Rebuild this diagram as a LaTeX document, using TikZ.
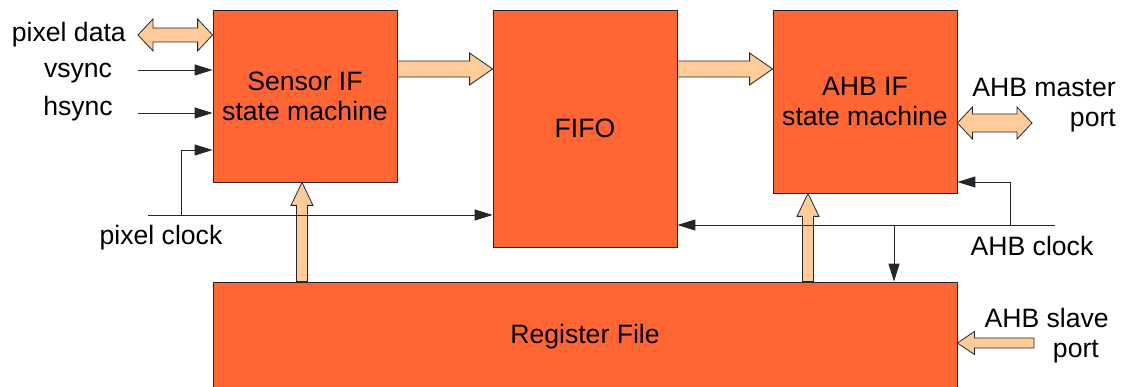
\documentclass[tikz,border=0pt]{standalone}
\usepackage{fontspec}
\setmainfont{Liberation Sans}
\usetikzlibrary{calc,positioning,arrows.meta}
\definecolor{blockred}{RGB}{255,102,51}
\definecolor{busfill}{RGB}{255,204,153}
\newcommand{\lbl}{\fontsize{26.6}{30}\selectfont}
% fat bus arrow: tail, tip, shaft half width, head half width, head length
\newcommand{\busarrow}[5]{%
  \coordinate (bn) at ($(#2)!#5!(#1)$);
  \draw[bus] ($(#1)!#3!90:(#2)$) -- ($(bn)!#3!90:(#2)$) -- ($(bn)!#4!90:(#2)$) -- (#2)
    -- ($(bn)!#4!-90:(#2)$) -- ($(bn)!#3!-90:(#2)$) -- ($(#1)!#3!-90:(#2)$) -- cycle;}
% fat bus arrow with two heads
\newcommand{\busdouble}[5]{%
  \coordinate (bn1) at ($(#1)!#5!(#2)$);
  \coordinate (bn2) at ($(#2)!#5!(#1)$);
  \draw[bus] (#1) -- ($(bn1)!#4!90:(#2)$) -- ($(bn1)!#3!90:(#2)$) -- ($(bn2)!#3!90:(#2)$)
    -- ($(bn2)!#4!90:(#2)$) -- (#2) -- ($(bn2)!#4!-90:(#2)$) -- ($(bn2)!#3!-90:(#2)$)
    -- ($(bn1)!#3!-90:(#2)$) -- ($(bn1)!#4!-90:(#2)$) -- cycle;}

\begin{document}
\begin{tikzpicture}[x=1pt, y=-1pt,
    block/.style={rectangle, draw=black!85, line width=0.8pt, fill=blockred, inner sep=0pt, align=center, font=\lbl},
    bus/.style={draw=black!85, line width=0.8pt, fill=busfill, line join=miter},
    sig/.style={draw=black!85, line width=0.9pt, -{Triangle[length=18pt,width=11pt]}},
    lbl/.style={font=\lbl, inner sep=0pt}]

    \useasboundingbox (0,0) rectangle (1122,387);

    \node[block, minimum width=184pt, minimum height=172pt] (sensor) at (305,96) {Sensor IF\\state machine};
    \node[block, minimum width=184pt, minimum height=237pt] (fifo) at (585,128.5) {FIFO};
    \node[block, minimum width=184pt, minimum height=183pt] (ahb) at (865,101.5) {AHB IF\\state machine};
    \node[block, minimum width=744pt, minimum height=110pt] (reg) at (585,337) {Register File};

    \node[lbl, anchor=base east] (pdlab) at (126,42) {pixel data};
    \node[lbl, anchor=base] (vslab) at (78,78) {vsync};
    \node[lbl, anchor=base] (hslab) at (78,116) {hsync};
    \node[lbl, anchor=base] (pclklab) at (161,245) {pixel clock};
    \node[lbl, anchor=north east, align=right] (amlab) at (1116,78) {AHB master\\port};
    \node[lbl, anchor=base] (aclklab) at (1032,256) {AHB clock};
    \node[lbl, anchor=north east, align=right] (aslab) at (1109,308) {AHB slave\\port\hspace*{10pt}};

    % bus arrows
    \coordinate (pdL) at (138,35);
    \coordinate (pdR) at (sensor.west |- pdL);
    \busdouble{pdL}{pdR}{7pt}{16pt}{15pt}
    \coordinate (sfA) at (sensor.east |- 0,69);
    \coordinate (sfB) at (fifo.west |- 0,69);
    \busarrow{sfA}{sfB}{8pt}{16pt}{23pt}
    \coordinate (faA) at (fifo.east |- 0,69);
    \coordinate (faB) at (ahb.west |- 0,69);
    \busarrow{faA}{faB}{8pt}{16pt}{23pt}
    \coordinate (amL) at (ahb.east |- 0,123);
    \coordinate (amR) at (1032,123);
    \busdouble{amL}{amR}{9pt}{16pt}{15pt}
    \coordinate (rsA) at (302,0 |- reg.north);
    \coordinate (rsB) at (302,0 |- sensor.south);
    \busarrow{rsA}{rsB}{5.5pt}{11pt}{23pt}
    \coordinate (raA) at (808,0 |- reg.north);
    \coordinate (raB) at (808,0 |- ahb.south);
    \busarrow{raA}{raB}{5.5pt}{11pt}{23pt}
    \coordinate (asA) at (1034,343);
    \coordinate (asB) at (reg.east |- asA);
    \busarrow{asA}{asB}{5pt}{11.5pt}{17pt}

    % control signals and clocks
    \coordinate (vs) at (138,70);
    \coordinate (hs) at (138,113);
    \draw[sig] (vs) -- (vs -| sensor.west);
    \draw[sig] (hs) -- (hs -| sensor.west);
    \coordinate (pclk) at (148,215);
    \coordinate (pclkT) at (181,215);
    \draw[sig] (pclk) -- (pclk -| fifo.west);
    \draw[sig] (pclkT) |- (sensor.west |- 0,150);
    \coordinate (aclk) at (1055,225);
    \coordinate (aclkT) at (1010,225);
    \coordinate (aclkB) at (894,225);
    \draw[sig] (aclk) -- (aclk -| fifo.east);
    \draw[sig] (aclkT) |- (ahb.east |- 0,182);
    \draw[sig] (aclkB) -- (aclkB |- reg.north);
\end{tikzpicture}
\end{document}
